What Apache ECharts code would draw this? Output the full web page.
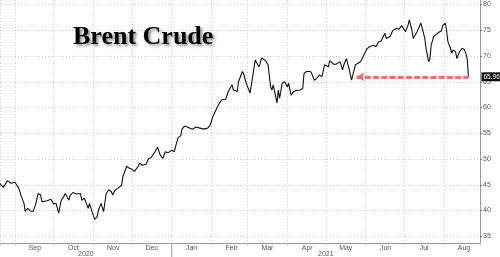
<!DOCTYPE html>
<html><head><meta charset="utf-8">
<script src="https://cdn.jsdelivr.net/npm/echarts@6/dist/echarts.min.js"></script>
<style>html,body{margin:0;padding:0;background:#fff}#c{width:500px;height:257px}</style>
</head><body><div id="c"></div>
<script>
const dates = ['2020-08-20','2020-08-23','2020-08-26','2020-08-29','2020-09-01','2020-09-04','2020-09-06','2020-09-08','2020-09-09','2020-09-11','2020-09-13','2020-09-15','2020-09-17','2020-09-19','2020-09-21','2020-09-22','2020-09-26','2020-09-29','2020-10-01','2020-10-03','2020-10-05','2020-10-07','2020-10-09','2020-10-10','2020-10-13','2020-10-14','2020-10-16','2020-10-19','2020-10-22','2020-10-23','2020-10-25','2020-10-27','2020-10-28','2020-10-29','2020-10-31','2020-11-02','2020-11-04','2020-11-05','2020-11-07','2020-11-08','2020-11-09','2020-11-11','2020-11-13','2020-11-15','2020-11-16','2020-11-18','2020-11-20','2020-11-23','2020-11-24','2020-11-27','2020-11-29','2020-12-01','2020-12-03','2020-12-06','2020-12-07','2020-12-09','2020-12-12','2020-12-14','2020-12-16','2020-12-19','2020-12-21','2020-12-23','2020-12-25','2020-12-27','2020-12-29','2021-01-01','2021-01-03','2021-01-04','2021-01-06','2021-01-08','2021-01-09','2021-01-11','2021-01-13','2021-01-17','2021-01-20','2021-01-23','2021-01-26','2021-01-29','2021-01-31','2021-02-02','2021-02-05','2021-02-07','2021-02-09','2021-02-12','2021-02-14','2021-02-17','2021-02-18','2021-02-21','2021-02-22','2021-02-25','2021-02-26','2021-02-28','2021-03-03','2021-03-05','2021-03-07','2021-03-09','2021-03-10','2021-03-12','2021-03-15','2021-03-17','2021-03-19','2021-03-20','2021-03-21','2021-03-24','2021-03-25','2021-03-26','2021-03-28','2021-03-29','2021-03-30','2021-04-01','2021-04-02','2021-04-04','2021-04-06','2021-04-08','2021-04-11','2021-04-13','2021-04-14','2021-04-16','2021-04-19','2021-04-20','2021-04-22','2021-04-24','2021-04-26','2021-04-28','2021-04-30','2021-05-03','2021-05-04','2021-05-07','2021-05-09','2021-05-12','2021-05-14','2021-05-15','2021-05-17','2021-05-19','2021-05-21','2021-05-23','2021-05-24','2021-05-28','2021-05-30','2021-06-02','2021-06-04','2021-06-07','2021-06-09','2021-06-11','2021-06-13','2021-06-16','2021-06-17','2021-06-20','2021-06-22','2021-06-25','2021-06-27','2021-06-29','2021-07-02','2021-07-04','2021-07-05','2021-07-07','2021-07-08','2021-07-11','2021-07-14','2021-07-15','2021-07-17','2021-07-18','2021-07-20','2021-07-21','2021-07-22','2021-07-24','2021-07-26','2021-07-28','2021-07-30','2021-07-31','2021-08-02','2021-08-03','2021-08-04','2021-08-06','2021-08-07','2021-08-08','2021-08-10','2021-08-11','2021-08-13','2021-08-15','2021-08-17','2021-08-18','2021-08-19','2021-08-20'];
const prices = [45.3,44.5,45.8,45.3,45.5,44.3,42.7,41.4,39.9,40.4,39.9,39.8,41.1,43.3,43.0,41.7,41.9,42.2,41.3,41.4,39.5,42.0,42.7,43.3,42.0,43.0,43.5,43.2,43.3,42.0,42.4,41.1,40.4,41.4,39.8,38.3,38.8,40.1,41.4,41.1,39.8,43.3,44.0,43.7,43.0,44.0,44.3,44.9,46.6,48.6,48.2,48.0,47.6,48.6,49.2,48.8,49.0,50.1,50.3,51.4,52.3,50.8,50.1,51.4,51.2,51.7,51.4,52.4,54.2,54.5,55.8,56.4,56.2,55.8,56.2,56.0,55.8,56.0,56.6,58.2,59.8,60.8,61.5,61.6,63.1,64.4,63.4,63.1,65.0,67.0,66.6,64.7,62.8,66.0,69.2,68.3,67.9,69.6,69.1,68.3,64.0,63.4,64.4,60.9,63.4,61.8,64.7,64.4,65.0,64.0,64.7,62.4,63.1,63.3,63.4,63.7,66.6,67.0,67.0,66.6,65.3,65.7,66.3,66.0,68.3,67.9,69.1,68.4,68.4,68.9,67.3,68.3,69.5,67.6,65.3,67.3,68.3,68.9,69.9,71.4,71.8,72.1,71.8,72.7,72.9,74.4,73.4,73.8,74.9,75.4,75.2,75.9,74.7,76.0,77.0,75.0,73.4,74.7,76.4,75.4,73.4,71.5,68.9,69.5,72.1,73.8,74.2,74.6,74.9,75.9,76.4,74.9,72.8,71.5,70.5,71.2,70.8,69.5,70.8,71.5,71.2,70.5,69.5,65.96];
const monthNames = ['Jan','Feb','Mar','Apr','May','Jun','Jul','Aug','Sep','Oct','Nov','Dec'];
const yearLabels = ['2020','2021'];
const titleText = 'Brent Crude';
const lastValue = 65.96;
const lastLabel = '65.96';
const arrowStart = '2021-05-25';
const xMin = '2020-08-20T08:00:00Z';
const xMax = '2021-08-29T00:00:00Z';
const yearBoundary = '2021-01-01';
const yMin = 33.7, yMax = 80.87;

const DAY = 86400000;
const ts = s => Date.parse(s);
const seriesData = dates.map((d, i) => [ts(d), prices[i]]);
const shift = 15.5 * DAY;

const chart = echarts.init(document.getElementById('c'), null, {renderer: 'canvas'});
const gridColor = '#cdcdcd';
const labelColor = '#555';
const font = 'Liberation Sans';

chart.setOption({
  useUTC: true,
  animation: false,
  backgroundColor: '#fff',
  grid: {left: 0, right: 20, top: 0, bottom: 14, containLabel: false},
  xAxis: [{
    type: 'time', min: ts(xMin), max: ts(xMax),
    minInterval: 28 * DAY, maxInterval: 31 * DAY,
    axisLine: {show: true, lineStyle: {color: '#999', width: 1}},
    axisTick: {show: true, length: 2, lineStyle: {color: '#bbb'}},
    axisLabel: {show: false},
    splitLine: {show: true, lineStyle: {type: [1, 2], color: gridColor, width: 1}}
  }, {
    type: 'time', min: ts(xMin) - shift, max: ts(xMax) - shift,
    minInterval: 28 * DAY, maxInterval: 31 * DAY,
    position: 'bottom',
    axisLine: {show: false}, axisTick: {show: false}, splitLine: {show: false},
    axisLabel: {
      show: true, fontSize: 7, color: labelColor, fontFamily: font, margin: 2,
      hideOverlap: false,
      formatter: function (v) {
        const d = new Date(v);
        if (d.getUTCDate() !== 1 || d.getUTCHours() !== 0) return '';
        return monthNames[d.getUTCMonth()];
      }
    }
  }],
  yAxis: {
    type: 'value', position: 'right', min: yMin, max: yMax, splitNumber: 9,
    axisLine: {show: true, lineStyle: {color: '#999', width: 1}},
    axisTick: {show: true, length: 2, lineStyle: {color: '#777'}},
    axisLabel: {
      fontSize: 7, color: labelColor, fontFamily: font, margin: 3,
      showMinLabel: false, showMaxLabel: false,
      formatter: v => (Math.abs(v % 5) < 1e-6 ? String(v) : '')
    },
    splitLine: {show: true, showMinLine: false, showMaxLine: false,
      lineStyle: {type: [1, 2], color: gridColor, width: 1}}
  },
  series: [{
    type: 'line', xAxisIndex: 0, showSymbol: false, symbol: 'none',
    data: seriesData,
    lineStyle: {color: '#111', width: 1.1},
    markLine: {
      silent: true, animation: false,
      symbol: ['arrow', 'none'], symbolSize: [7, 8],
      label: {show: false},
      lineStyle: {color: '#e56a6c', width: 3, type: [6, 2.2], opacity: 0.9,
        shadowBlur: 2, shadowColor: 'rgba(230,90,90,0.5)'},
      emphasis: {disabled: true},
      data: [[{coord: [ts(arrowStart), lastValue]}, {coord: [ts(dates[dates.length - 1]), lastValue]}]]
    }
  }]
});

function addGraphics() {
  const xJan = chart.convertToPixel({xAxisIndex: 0}, ts(yearBoundary));
  const xL = chart.convertToPixel({xAxisIndex: 0}, ts(xMin));
  const xR = chart.convertToPixel({xAxisIndex: 0}, ts(xMax));
  const yLast = chart.convertToPixel({yAxisIndex: 0}, lastValue);
  const yAxisBottom = chart.convertToPixel({yAxisIndex: 0}, yMin);
  chart.setOption({
    graphic: [
      {type: 'text', left: 73, top: 24, z: 100,
        style: {text: titleText, font: 'bold 26px "Liberation Serif", "Times New Roman", serif', fill: '#000',
          textShadowColor: 'rgba(0,0,0,0.45)', textShadowBlur: 3, textShadowOffsetX: 2, textShadowOffsetY: 2}},
      {type: 'line', shape: {x1: xJan, y1: yAxisBottom, x2: xJan, y2: 257}, style: {stroke: '#999', lineWidth: 1}},
      {type: 'text', x: (xL + xJan) / 2, y: 254, style: {text: yearLabels[0], fontSize: 7, fill: labelColor, fontFamily: font, align: 'center', verticalAlign: 'middle'}},
      {type: 'text', x: (xJan + xR) / 2, y: 254, style: {text: yearLabels[1], fontSize: 7, fill: labelColor, fontFamily: font, align: 'center', verticalAlign: 'middle'}},
      {type: 'text', x: xR + 1.5, y: yLast, z: 100, style: {text: lastLabel, fontSize: 6.5, fill: '#fff', fontFamily: font,
        backgroundColor: '#111', padding: [1, 2, 1, 2], align: 'left', verticalAlign: 'middle'}}
    ]
  });
}
addGraphics();
</script>
</body></html>
